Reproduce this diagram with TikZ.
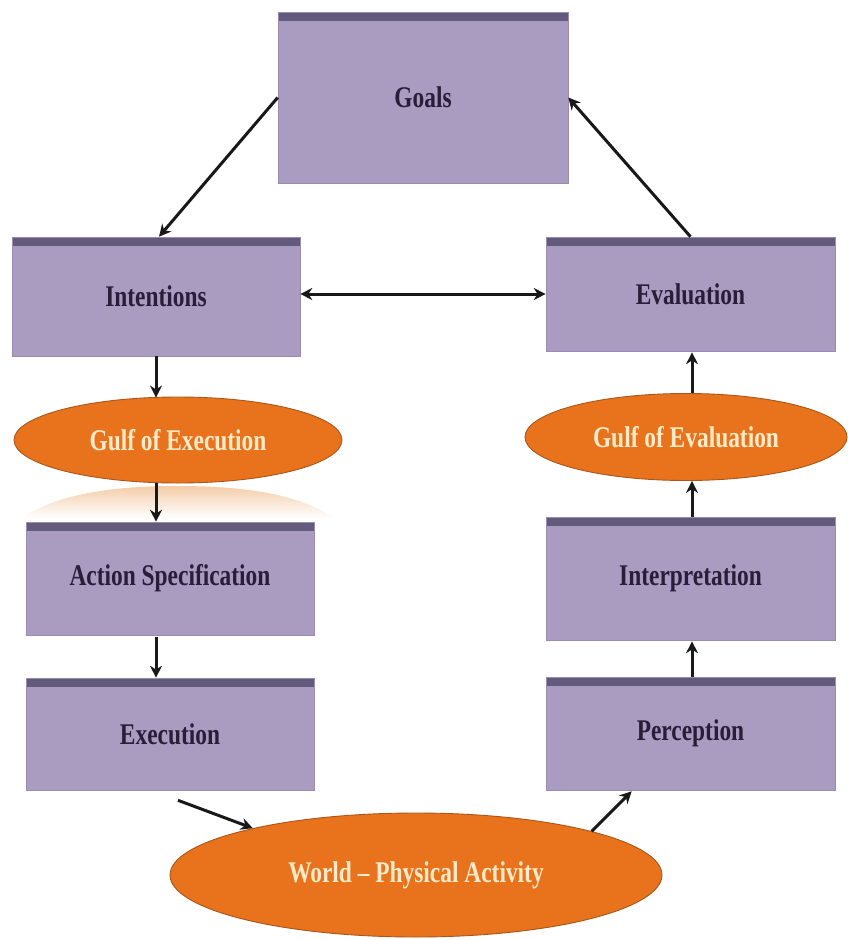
\documentclass[tikz,border=0pt]{standalone}
\usepackage{fontspec}
\newfontfamily\diagfont{Liberation Serif}[FakeStretch=0.78,Ligatures=TeX]
\usetikzlibrary{shapes.geometric,arrows.meta}
\definecolor{lav}{HTML}{AA9BC1}
\definecolor{lavedge}{HTML}{9A8BB2}
\definecolor{topbar}{HTML}{625A7B}
\definecolor{boxtext}{HTML}{2A1D3A}
\definecolor{orng}{HTML}{E8731C}
\definecolor{orngedge}{HTML}{A9561A}
\definecolor{cream}{HTML}{FFEBC9}
\definecolor{refl}{HTML}{F4CDA8}
\tikzset{
  stagebox/.style={rectangle, fill=lav, draw=lavedge, line width=0.6pt, inner sep=0pt,
    text=boxtext, font=\diagfont\bfseries\fontsize{30}{33}\selectfont,
    path picture={\shade[top color=topbar, bottom color=topbar!70!lav]
      (path picture bounding box.north west) rectangle ([yshift=-8pt]path picture bounding box.north east);}},
  gulf/.style={ellipse, fill=orng, draw=orngedge, line width=0.9pt, inner sep=0pt,
    text=cream, font=\diagfont\bfseries\fontsize{30}{33}\selectfont},
  arr/.style={draw=black!90, line width=3pt, -{Stealth[length=12pt,width=12pt]}},
  biarr/.style={draw=black!90, line width=3pt, {Stealth[length=12pt,width=12pt]}-{Stealth[length=12pt,width=12pt]}}
}
\begin{document}
\begin{tikzpicture}[x=1pt,y=-1pt]
\useasboundingbox[fill=white] (0,0) rectangle (848,940);
% reflection under Gulf of Execution
\shade[top color=refl, bottom color=white]
  (22,518) .. controls (60,492) and (120,486) .. (178,486)
  .. controls (236,486) and (296,492) .. (334,518) -- cycle;
% boxes
\node[stagebox, minimum width=290pt, minimum height=171pt] (goals) at (423,97.5) {Goals};
\node[stagebox, minimum width=288pt, minimum height=119pt] (intent) at (156,296.5) {Intentions};
\node[stagebox, minimum width=289pt, minimum height=114pt] (evalu) at (690.5,294) {Evaluation};
\node[stagebox, minimum width=288pt, minimum height=113pt] (actspec) at (170,578.5) {Action Specification};
\node[stagebox, minimum width=289pt, minimum height=123pt] (interp) at (690.5,578.5) {Interpretation};
\node[stagebox, minimum width=288pt, minimum height=112pt] (exec) at (170,734) {Execution};
\node[stagebox, minimum width=289pt, minimum height=113pt] (percep) at (690.5,733.5) {Perception};
% ellipses
\node[gulf, minimum width=328pt, minimum height=86pt] (gexec) at (178,440) {Gulf of Execution};
\node[gulf, minimum width=322pt, minimum height=87pt] (geval) at (686,437) {Gulf of Evaluation};
\node[gulf, minimum width=492pt, minimum height=124pt] (world) at (416,875) {World – Physical Activity};
% connectors
\draw[arr] (goals.west) -- ([xshift=3pt]intent.north);
\draw[arr] (evalu.north) -- (goals.east);
\draw[biarr] (intent.east |- evalu.west) -- (evalu.west);
\draw[arr] (intent.south) -- ([yshift=-1pt]intent.south |- gexec.north);
\draw[arr] (intent.south |- gexec.south) -- (intent.south |- actspec.north);
\draw[arr] ([yshift=-2pt]intent.south |- actspec.south) -- (intent.south |- exec.north);
\coordinate (execout) at ([xshift=8pt,yshift=-10pt]exec.south);
\draw[arr] (execout) -- (world.164);
\coordinate (percin) at ([xshift=86pt,yshift=-1pt]percep.south west);
\draw[arr] (world.14) -- (percin);
\draw[arr] ([xshift=1.5pt]percep.north) -- ([xshift=1.5pt,yshift=-1pt]interp.south);
\draw[arr] ([xshift=1.5pt]interp.north) -- ([xshift=1.5pt]interp.north |- geval.south);
\draw[arr] ([xshift=1.5pt]interp.north |- geval.north) -- ([xshift=1.5pt,yshift=-1pt]evalu.south);
\end{tikzpicture}
\end{document}
